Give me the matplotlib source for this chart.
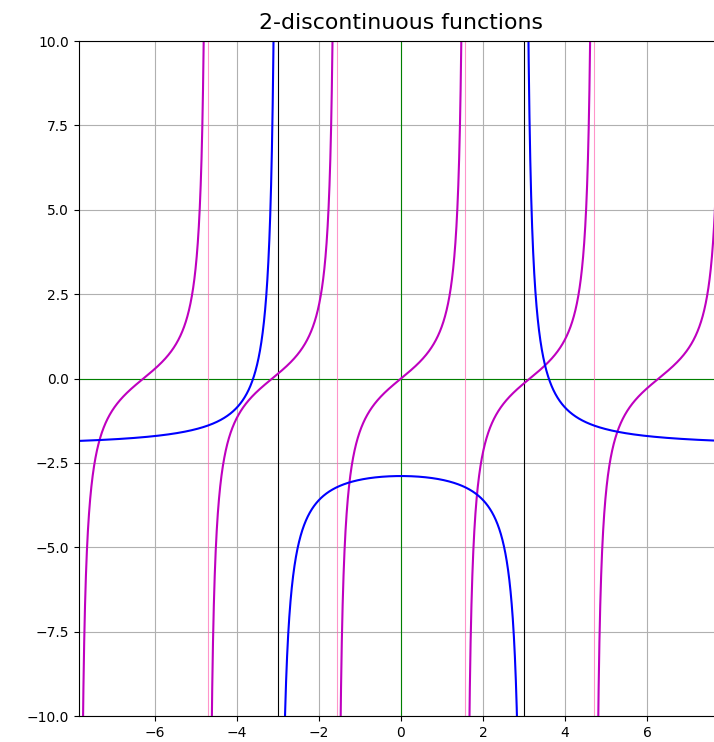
import numpy as np
import matplotlib
matplotlib.use("Agg")
import matplotlib.pyplot as plt

# range and asymptotes
X_MIN, X_MAX = -2.5 * np.pi, 2.5 * np.pi
Y_MIN, Y_MAX = -10, 10
TAN_POLES = [-1.5 * np.pi, -0.5 * np.pi, 0.5 * np.pi, 1.5 * np.pi]
RATIONAL_POLES = [-3, 3]

# rational function -2 + 8/(x^2 - 9), poles at +-3
RAT_A = -2.0
RAT_B = 8.0
RAT_C = 9.0


def rational(x):
    return RAT_A + RAT_B / (x ** 2 - RAT_C)


def split_ranges(poles, lo, hi, eps=1e-4):
    edges = [lo] + list(poles) + [hi]
    return [(edges[i] + (eps if i > 0 else 0), edges[i + 1] - (eps if i + 1 < len(edges) - 1 else 0))
            for i in range(len(edges) - 1)]


fig = plt.figure(figsize=(7.14, 7.42), dpi=100)
ax = fig.add_axes([0.1106, 0.035, 0.902, 0.9097])

ax.grid(True)
ax.axhline(0, color="g", lw=0.8)
ax.axvline(0, color="g", lw=0.8)
for p in TAN_POLES:
    ax.axvline(p, color="hotpink", lw=0.8, alpha=0.7)
for p in RATIONAL_POLES:
    ax.axvline(p, color="k", lw=0.8)

for a, b in split_ranges(TAN_POLES, X_MIN, X_MAX):
    x = np.linspace(a, b, 2000)
    ax.plot(x, np.tan(x), color="m", lw=1.5)

for a, b in split_ranges(RATIONAL_POLES, X_MIN, X_MAX):
    x = np.linspace(a, b, 2000)
    ax.plot(x, rational(x), color="b", lw=1.5)

ax.set_xlim(X_MIN, X_MAX)
ax.set_ylim(Y_MIN, Y_MAX)
ax.set_title("2-discontinuous functions", fontsize=15.8, pad=9)

plt.savefig("out.png", dpi=100)
